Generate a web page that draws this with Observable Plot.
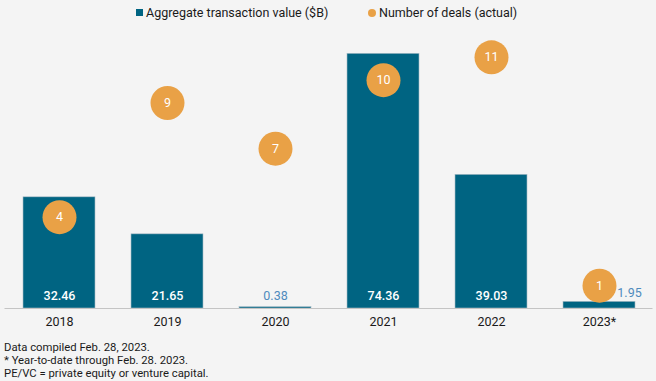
<!DOCTYPE html>
<html>
<head>
<meta charset="utf-8">
<script src="https://cdn.jsdelivr.net/npm/d3@7"></script>
<script src="https://cdn.jsdelivr.net/npm/@observablehq/plot@0.6"></script>
<style>
  html, body { margin: 0; padding: 0; background: #f4f4f4; }
  body { width: 656px; height: 381px; overflow: hidden; font-family: Roboto, "Liberation Sans", sans-serif; color: #1a1a1a; }
  #legend { height: 28px; position: relative; font-size: 12.5px; }
  .li { position: absolute; top: 5px; display: flex; align-items: center; white-space: nowrap; }
  .sw { width: 7px; height: 7px; background: #006482; margin-right: 3px; }
  .dot { width: 8px; height: 8px; border-radius: 50%; background: #e9a146; margin-right: 3px; }
  #chart svg { display: block; }
  #notes { font-size: 11.3px; line-height: 13px; padding-left: 4px; margin-top: 3px; }
</style>
</head>
<body>
<div id="legend">
  <div class="li" style="left:136px"><div class="sw"></div>Aggregate transaction value ($B)</div>
  <div class="li" style="left:368px"><div class="dot"></div>Number of deals (actual)</div>
</div>
<div id="chart"></div>
<div id="notes">
  <div>Data compiled Feb. 28, 2023.</div>
  <div>* Year-to-date through Feb. 28. 2023.</div>
  <div>PE/VC = private equity or venture capital.</div>
</div>
<script>
const years = ["2018", "2019", "2020", "2021", "2022", "2023*"];
const values = [32.46, 21.65, 0.38, 74.36, 39.03, 1.95];
const deals = [4, 9, 7, 10, 11, 1];
const valueAxisMax = 80;
const dealsAxisMax = 12;

const toValueUnits = d3.scaleLinear([0, dealsAxisMax], [0, valueAxisMax]);
const rows = years.map((y, i) => ({year: y, value: values[i], deals: deals[i], dealY: toValueUnits(deals[i])}));
const big = rows.filter(d => d.value >= 10);
const small = rows.filter(d => d.value < 10);
const smallUnder = small.filter(d => d.deals > 3);   // label sits under the bar centre (circle far above)
const smallBeside = small.filter(d => d.deals <= 3); // circle sits on the bar: label goes beside it

const font = "Roboto, 'Liberation Sans', sans-serif";
const plot = Plot.plot({
  width: 656,
  height: 310,
  marginLeft: 4.5,
  marginRight: 3.5,
  marginTop: 6,
  marginBottom: 30,
  style: {background: "transparent", fontFamily: font},
  x: {domain: years, paddingInner: 1/3, paddingOuter: 1/6, label: null},
  y: {domain: [0, valueAxisMax], axis: null},
  marks: [
    Plot.barY(rows, {x: "year", y: "value", fill: "#006482", stroke: "#a9bcc6", strokeWidth: 0.6}),
    Plot.ruleY([0], {stroke: "#c4c4c4", strokeWidth: 1.2}),
    Plot.axisX({tickSize: 0, tickPadding: 9, fontSize: 12.5, fill: "#1a1a1a", label: null}),
    Plot.text(big, {x: "year", y: 0, text: d => d.value.toFixed(2), dy: -13, fill: "white", fontSize: 12.5, fontWeight: 500}),
    Plot.text(smallUnder, {x: "year", y: 0, text: d => d.value.toFixed(2), dy: -13, fill: "#4f8bbd", fontSize: 12.5}),
    Plot.dot(rows, {x: "year", y: "dealY", r: 17, fill: "#e9a146"}),
    Plot.text(rows, {x: "year", y: "dealY", text: d => String(d.deals), fill: "white", fontSize: 12.5}),
    Plot.text(smallBeside, {x: "year", y: 0, text: d => d.value.toFixed(2), dx: 30, dy: -16, fill: "#4f8bbd", fontSize: 12.5})
  ]
});
document.getElementById("chart").appendChild(plot);
</script>
</body>
</html>
